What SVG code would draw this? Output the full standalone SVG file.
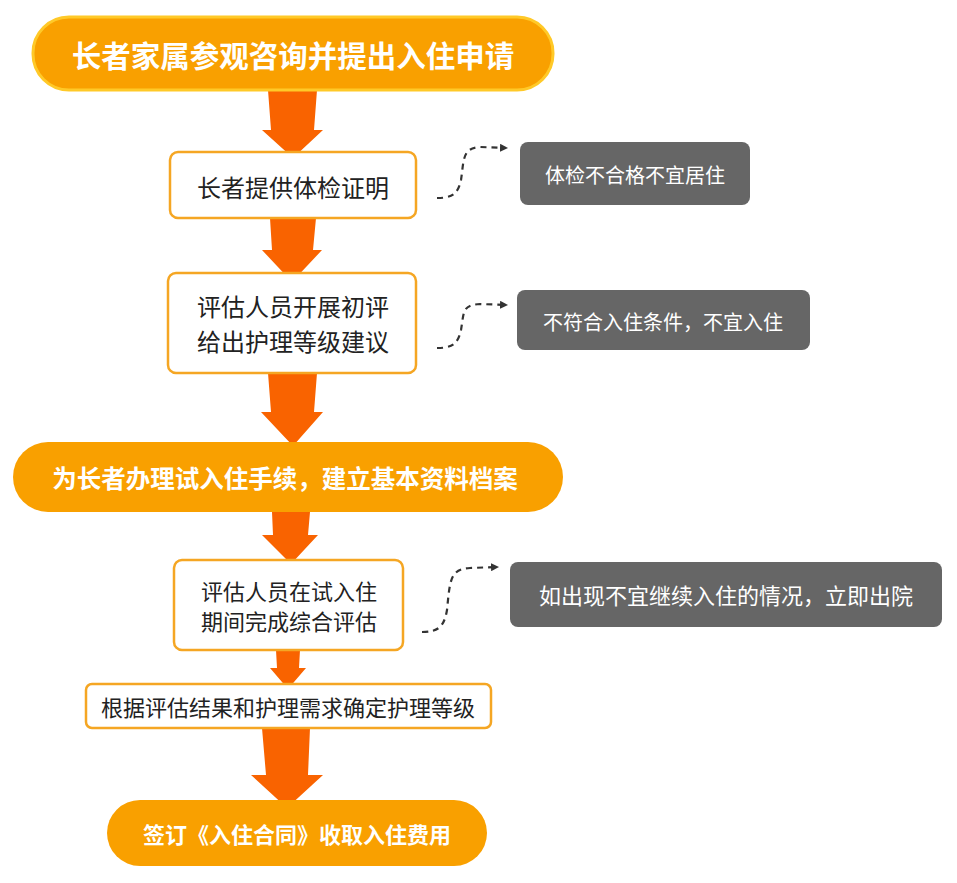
<svg xmlns="http://www.w3.org/2000/svg" width="957" height="883" viewBox="0 0 957 883">
<style>
.pill{fill:#F9A000;}
.box{fill:#fff;stroke:#F5A623;stroke-width:2.5;}
.gray{fill:#666666;}
.arr{fill:#F96300;}
.dash{fill:none;stroke:#333;stroke-width:2.2;stroke-dasharray:6 5;}
.tw{font-family:"Noto Sans CJK SC","Noto Sans",sans-serif;fill:#fff;text-anchor:middle;dominant-baseline:central;font-weight:bold;}
.tb{font-family:"Noto Sans CJK SC","Noto Sans",sans-serif;fill:#222;text-anchor:middle;dominant-baseline:central;}
.tg{font-family:"Noto Sans CJK SC","Noto Sans",sans-serif;fill:#fff;text-anchor:middle;dominant-baseline:central;}
</style>
<defs>
<marker id="ah" markerWidth="8" markerHeight="8" refX="6" refY="4" orient="auto" markerUnits="userSpaceOnUse">
<path d="M0,0 L8,4 L0,8 Z" fill="#333"/>
</marker>
</defs>
<rect width="957" height="883" fill="#fff"/>
<g id="connectors">
<polygon class="arr" points="268,90 317,90 314,130 323,130 293,158 262,130 271,130"/>
<polygon class="arr" points="270,218 316,218 313,250 322,250 292,282 262,250 272,250"/>
<polygon class="arr" points="268,373 317,373 314,412 323,412 293,446 261,412 271,412"/>
<polygon class="arr" points="272,512 310,512 308,535 318,535 291,564 262,535 273,535"/>
<polygon class="arr" points="276,650 300,650 299,668 306,668 288,689 270,668 277,668"/>
<polygon class="arr" points="262,728 310,728 308,775 323,775 287,808 251,775 266,775"/>
<path class="dash" d="M437,198 C452,198 458,194 461,180 C464,160 462,148 480,147 L506,148" marker-end="url(#ah)"/>
<path class="dash" d="M437,348 C452,348 458,344 461,330 C464,312 462,305 480,304 L506,305" marker-end="url(#ah)"/>
<path class="dash" d="M422,632 C437,632 444,628 447,610 C450,580 450,569 470,568 L497,567" marker-end="url(#ah)"/>
</g>
<g id="n1">
<rect x="33" y="17" width="520" height="73" rx="36" class="pill" stroke="#FFC928" stroke-width="3"/>
<text x="293" y="54" class="tw" font-size="29.5">长者家属参观咨询并提出入住申请</text>
</g>
<g id="n2">
<rect x="170" y="152" width="246" height="66" rx="8" class="box"/>
<text x="293" y="186" class="tb" font-size="24">长者提供体检证明</text>
</g>
<g id="g1">
<rect x="520" y="142" width="230" height="63" rx="8" class="gray"/>
<text x="635" y="174" class="tg" font-size="20">体检不合格不宜居住</text>
</g>
<g id="n3">
<rect x="168" y="273" width="248" height="100" rx="8" class="box"/>
<text x="293" y="305" class="tb" font-size="24">评估人员开展初评</text>
<text x="293" y="340" class="tb" font-size="24">给出护理等级建议</text>
</g>
<g id="g2">
<rect x="517" y="290" width="293" height="60" rx="8" class="gray"/>
<text x="663" y="321" class="tg" font-size="20">不符合入住条件，不宜入住</text>
</g>
<g id="n4">
<rect x="13" y="442" width="550" height="70" rx="35" class="pill"/>
<text x="285" y="477" class="tw" font-size="24.5">为长者办理试入住手续，建立基本资料档案</text>
</g>
<g id="n5">
<rect x="174" y="560" width="229" height="90" rx="8" class="box"/>
<text x="289" y="590" class="tb" font-size="22">评估人员在试入住</text>
<text x="289" y="620" class="tb" font-size="22">期间完成综合评估</text>
</g>
<g id="g3">
<rect x="510" y="562" width="432" height="65" rx="8" class="gray"/>
<text x="726" y="594" class="tg" font-size="22">如出现不宜继续入住的情况，立即出院</text>
</g>
<g id="n6">
<rect x="86" y="684" width="405" height="44" rx="6" class="box"/>
<text x="288" y="706" class="tb" font-size="22">根据评估结果和护理需求确定护理等级</text>
</g>
<g id="n7">
<rect x="107" y="800" width="380" height="66" rx="33" class="pill"/>
<text x="297" y="833" class="tw" font-size="22">签订《入住合同》收取入住费用</text>
</g>
</svg>
